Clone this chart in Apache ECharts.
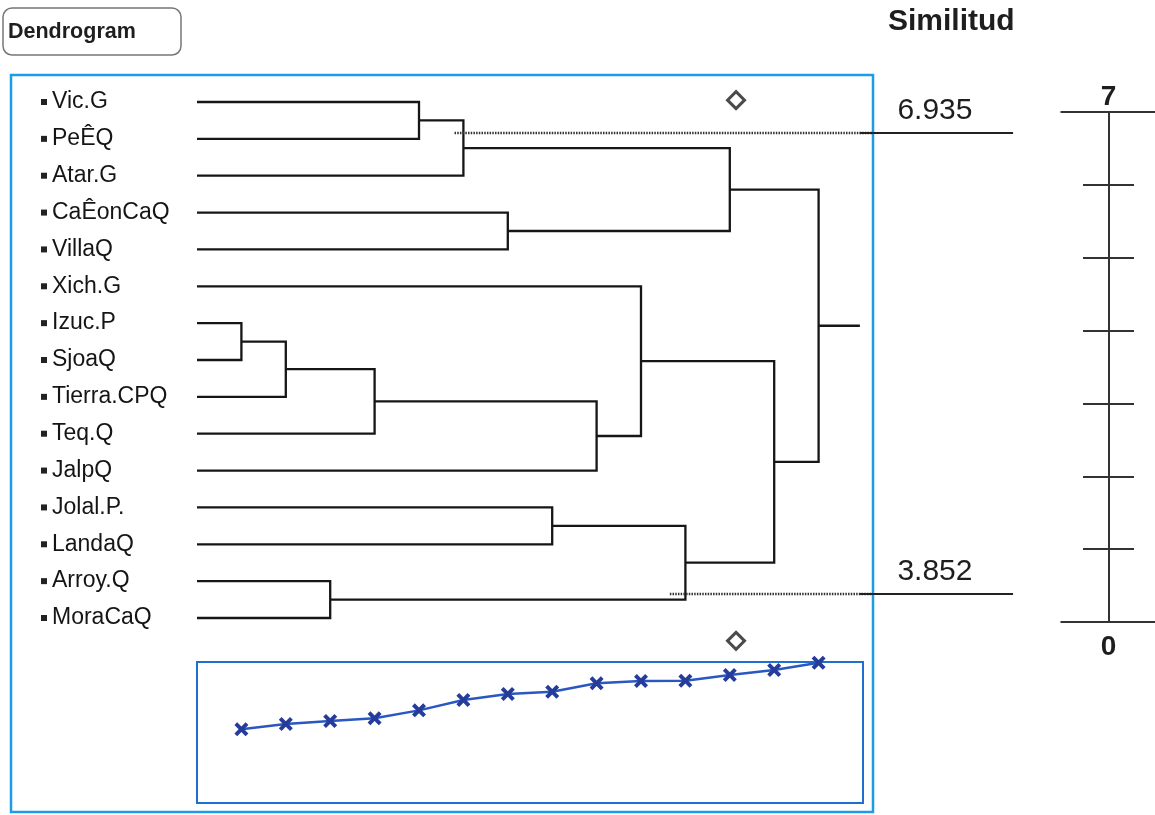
<!DOCTYPE html>
<html><head><meta charset="utf-8">
<script src="https://cdn.jsdelivr.net/npm/echarts@6/dist/echarts.min.js"></script>
<style>html,body{margin:0;padding:0;background:#fff}#c{width:1155px;height:815px}</style>
</head><body><div id="c"></div>
<script>
// ---- data ----
const leaves = ['Vic.G','PeÊQ','Atar.G','CaÊonCaQ','VillaQ','Xich.G','Izuc.P','SjoaQ','Tierra.CPQ','Teq.Q','JalpQ','Jolal.P.','LandaQ','Arroy.Q','MoraCaQ'];
// merges in order (step = index + 1); ids 0..14 leaves, 15.. merged clusters
const merges = [[6,7],[15,8],[13,14],[16,9],[0,1],[19,2],[3,4],[11,12],[18,10],[5,23],[22,17],[20,21],[24,25],[26,27]];
// similarity level of each merge (lower panel, % of maximum)
const mergeLevel = [52.3,56.0,58.2,60.1,65.7,73.0,77.3,78.9,84.9,86.5,86.7,90.8,94.3,99.5];
const scaleTicks = [0,1,2,3,4,5,6,7];
const cutLabels = ['6.935','3.852'];
const cutRow = [0.84,13.35];
const cutStep = [5.8,10.65];
const cursorStep = [12.14,12.14];
const cursorRow = [-0.05,14.62];

// ---- derived tree layout ----
const nodeX = [], nodeY = [];
leaves.forEach((l,i)=>{nodeX[i]=0;nodeY[i]=i;});
merges.forEach((m,k)=>{const id=leaves.length+k;nodeX[id]=k+1;nodeY[id]=(nodeY[m[0]]+nodeY[m[1]])/2;});
const rootId = leaves.length+merges.length-1;

const INK='#161616';
const FONT='"Liberation Sans", Arial, sans-serif';
const chart = echarts.init(document.getElementById('c'));
chart.setOption({
  animation:false,
  textStyle:{fontFamily:FONT},
  graphic:[
    {type:'rect',shape:{x:3,y:8,width:178,height:47,r:9},style:{fill:'#fff',stroke:'#777',lineWidth:1.5}},
    {type:'text',x:8,y:32,style:{text:'Dendrogram',font:'bold 21.5px '+FONT,fill:'#1e1e1e',textVerticalAlign:'middle'}},
    {type:'text',x:888,y:22,style:{text:'Similitud',font:'bold 30px '+FONT,fill:'#1e1e1e',textVerticalAlign:'middle'}},
    {type:'rect',shape:{x:11,y:75,width:862,height:737},style:{fill:'none',stroke:'#1e9be6',lineWidth:2.5},z:-1}
  ],
  grid:[
    {left:197,top:102,width:666,height:516},
    {left:197,top:662,width:666,height:141,show:true,borderColor:'#1f6fd0',borderWidth:2,backgroundColor:'transparent'},
    {left:1083,top:112,width:51,height:510}
  ],
  xAxis:[
    {gridIndex:0,type:'value',min:0,max:15,show:false},
    {gridIndex:1,type:'value',min:0,max:15,show:false},
    {gridIndex:2,type:'value',min:0,max:1,show:false}
  ],
  yAxis:[
    {gridIndex:0,type:'value',min:0,max:14,interval:1,inverse:true,
      axisLine:{show:false},axisTick:{show:false},splitLine:{show:false},
      axisLabel:{align:'left',margin:156,formatter:v=>'{b|}{t|'+leaves[v]+'}',
        rich:{b:{width:6,height:6,backgroundColor:'#222'},t:{fontSize:23,color:'#151515',padding:[0,0,0,5],fontFamily:FONT}}}},
    {gridIndex:1,type:'value',min:0,max:100,show:false},
    {gridIndex:2,type:'value',min:0,max:7,interval:1,
      axisLine:{show:true,lineStyle:{color:'#333',width:2}},offset:-25.5,
      axisTick:{show:false},axisLabel:{show:false},
      splitLine:{show:true,lineStyle:{color:'#333',width:2}}}
  ],
  series:[
    {type:'custom',xAxisIndex:0,yAxisIndex:0,clip:false,
      data:merges.map((m,k)=>k),
      renderItem:(p,api)=>{
        const k=p.dataIndex,m=merges[k],s=k+1,a=m[0],b=m[1];
        const pts=[api.coord([nodeX[a],nodeY[a]]),api.coord([s,nodeY[a]]),api.coord([s,nodeY[b]]),api.coord([nodeX[b],nodeY[b]])];
        const children=[{type:'polyline',shape:{points:pts},style:{stroke:INK,lineWidth:2.3,fill:null}}];
        if(leaves.length+k===rootId){
          const ry=api.coord([s,nodeY[rootId]])[1];
          children.push({type:'line',shape:{x1:pts[1][0],y1:ry,x2:api.coord([s+0.93,0])[0],y2:ry},style:{stroke:INK,lineWidth:2.3}});
        }
        return {type:'group',children};
      }},
    {type:'custom',xAxisIndex:0,yAxisIndex:0,clip:false,
      data:cutLabels.map((c,i)=>i),
      renderItem:(p,api)=>{
        const i=p.dataIndex;
        const a=api.coord([cutStep[i],cutRow[i]]),mid=api.coord([15.22,cutRow[i]]),e=api.coord([18.38,cutRow[i]]);
        return {type:'group',children:[
          {type:'line',shape:{x1:a[0],y1:a[1],x2:mid[0],y2:mid[1]},style:{stroke:'#333',lineWidth:2.5,lineDash:[1.5,1.2]}},
          {type:'line',shape:{x1:mid[0]-13,y1:mid[1],x2:e[0],y2:e[1]},style:{stroke:'#222',lineWidth:2}},
          {type:'text',x:(mid[0]+e[0])/2-8,y:e[1]-7,style:{text:cutLabels[i],font:'30px '+FONT,fill:'#1e1e1e',textAlign:'center',textVerticalAlign:'bottom'}}
        ]};
      }},
    {type:'scatter',xAxisIndex:0,yAxisIndex:0,clip:false,symbol:'diamond',symbolSize:[17,17],
      itemStyle:{color:'#fff',borderColor:'#1e1e1e',borderWidth:3},
      data:cursorStep.map((s,i)=>[s,cursorRow[i]])},
    {type:'line',xAxisIndex:1,yAxisIndex:1,
      data:mergeLevel.map((v,i)=>[i+1,v]),
      lineStyle:{color:'#2a58c0',width:2.5},
      symbol:'path://M0,2 L2,0 L5,3 L8,0 L10,2 L7,5 L10,8 L8,10 L5,7 L2,10 L0,8 L3,5 Z',
      symbolSize:14,itemStyle:{color:'#253c9a'}},
    {type:'custom',xAxisIndex:2,yAxisIndex:2,clip:false,
      data:[scaleTicks[0],scaleTicks[scaleTicks.length-1]],
      renderItem:(p,api)=>{
        const v=api.value(0),c=api.coord([0.5,v]);
        const top=v===scaleTicks[scaleTicks.length-1];
        return {type:'group',children:[
          {type:'line',shape:{x1:c[0]-48,y1:c[1],x2:c[0]+47,y2:c[1]},style:{stroke:'#333',lineWidth:2}},
          {type:'text',x:c[0],y:top?c[1]-1:c[1]+11,style:{text:String(v),font:'bold 28px '+FONT,fill:'#1e1e1e',textAlign:'center',textVerticalAlign:top?'bottom':'top'}}
        ]};
      }}
  ]
});
</script></body></html>
